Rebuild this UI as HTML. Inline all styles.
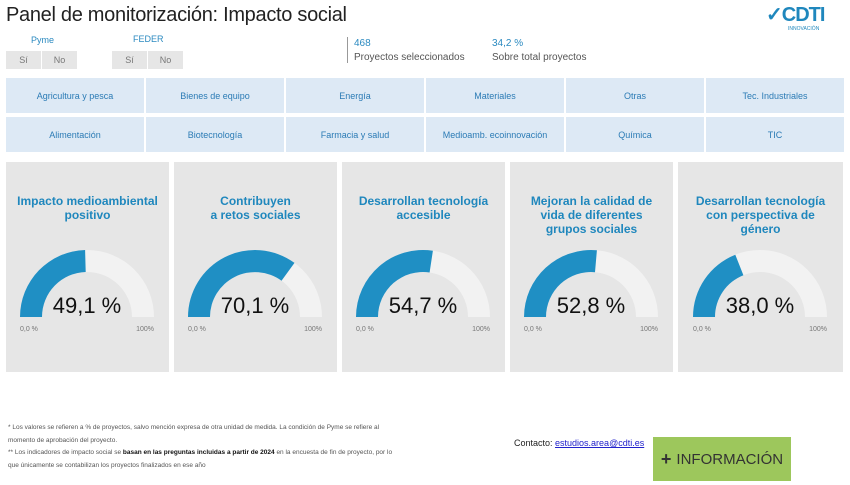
<!DOCTYPE html><html><head><meta charset="utf-8"><style>
body{margin:0;width:850px;height:485px;background:#fff;font-family:"Liberation Sans",sans-serif;position:relative;overflow:hidden}
.a{position:absolute}
.t{font-size:20px;color:#222;left:6px;top:4px;letter-spacing:-0.3px}
.cell{position:absolute;background:#dde9f5;color:#2b7bb5;font-size:9px;display:flex;align-items:center;justify-content:center;width:138px;height:35px}
.btn{position:absolute;background:#e6e6e6;color:#777;font-size:9px;display:flex;align-items:center;justify-content:center;height:18px}
.p{position:absolute;top:162px;height:210px;width:163px;background:#e6e6e6}
.p svg{position:absolute;left:0;top:0}
.h{position:absolute;left:0;right:0;top:32px;text-align:center;color:#1f87bd;font-weight:bold;font-size:12px;line-height:14px}
.foot{font-size:6.5px;color:#555;line-height:12.5px;left:8px;top:422px;width:390px}
</style></head><body>
<div class="a t">Panel de monitorización: Impacto social</div>
<div class="a" style="left:766px;top:2px;color:#1f87bd;font-weight:bold;font-size:20px;letter-spacing:-1px">✓CDTI</div>
<div class="a" style="left:788px;top:26px;color:#1f87bd;font-size:5px">INNOVACIÓN</div>
<div class="a" style="left:31px;top:35px;color:#2b8ac0;font-size:9px">Pyme</div>
<div class="a" style="left:133px;top:34px;color:#2b8ac0;font-size:9px">FEDER</div>
<div class="btn" style="left:6px;top:51px;width:35px">Sí</div><div class="btn" style="left:42px;top:51px;width:35px">No</div>
<div class="btn" style="left:112px;top:51px;width:35px">Sí</div><div class="btn" style="left:148px;top:51px;width:35px">No</div>
<div class="a" style="left:347px;top:37px;width:1px;height:26px;background:#999"></div>
<div class="a" style="left:354px;top:38px;color:#2b8ac0;font-size:10px">468</div>
<div class="a" style="left:354px;top:52px;color:#555;font-size:10px">Proyectos seleccionados</div>
<div class="a" style="left:492px;top:38px;color:#2b8ac0;font-size:10px">34,2 %</div>
<div class="a" style="left:492px;top:52px;color:#555;font-size:10px">Sobre total proyectos</div>
<div class="cell" style="left:6px;top:78px">Agricultura y pesca</div>
<div class="cell" style="left:146px;top:78px">Bienes de equipo</div>
<div class="cell" style="left:286px;top:78px">Energía</div>
<div class="cell" style="left:426px;top:78px">Materiales</div>
<div class="cell" style="left:566px;top:78px">Otras</div>
<div class="cell" style="left:706px;top:78px">Tec. Industriales</div>
<div class="cell" style="left:6px;top:117px">Alimentación</div>
<div class="cell" style="left:146px;top:117px">Biotecnología</div>
<div class="cell" style="left:286px;top:117px">Farmacia y salud</div>
<div class="cell" style="left:426px;top:117px">Medioamb. ecoinnovación</div>
<div class="cell" style="left:566px;top:117px">Química</div>
<div class="cell" style="left:706px;top:117px">TIC</div>

<div class="p" style="left:6px"><div class="h">Impacto medioambiental<br>positivo</div>
<svg width="163" height="210"><g transform="translate(81,155)"><path d="M-67 0A67 67 0 0 1 67 0L45 0A45 45 0 0 0 -45 0Z" fill="#f2f2f2"/><path d="M-67 0A67 67 0 0 1 -1.9 -67L-1.3 -45A45 45 0 0 0 -45 0Z" fill="#1f8fc4"/>
<text x="0" y="-4" text-anchor="middle" font-size="22" fill="#111" font-family="Liberation Sans">49,1 %</text>
<text x="-67" y="14" font-size="7" fill="#777" font-family="Liberation Sans">0,0 %</text><text x="67" y="14" text-anchor="end" font-size="7" fill="#777" font-family="Liberation Sans">100%</text></g></svg></div>

<div class="p" style="left:174px"><div class="h">Contribuyen<br>a retos sociales</div>
<svg width="163" height="210"><g transform="translate(81,155)"><path d="M-67 0A67 67 0 0 1 67 0L45 0A45 45 0 0 0 -45 0Z" fill="#f2f2f2"/><path d="M-67 0A67 67 0 0 1 39.5 -54.1L26.5 -36.3A45 45 0 0 0 -45 0Z" fill="#1f8fc4"/>
<text x="0" y="-4" text-anchor="middle" font-size="22" fill="#111" font-family="Liberation Sans">70,1 %</text>
<text x="-67" y="14" font-size="7" fill="#777" font-family="Liberation Sans">0,0 %</text><text x="67" y="14" text-anchor="end" font-size="7" fill="#777" font-family="Liberation Sans">100%</text></g></svg></div>

<div class="p" style="left:342px"><div class="h">Desarrollan tecnología<br>accesible</div>
<svg width="163" height="210"><g transform="translate(81,155)"><path d="M-67 0A67 67 0 0 1 67 0L45 0A45 45 0 0 0 -45 0Z" fill="#f2f2f2"/><path d="M-67 0A67 67 0 0 1 9.9 -66.3L6.6 -44.5A45 45 0 0 0 -45 0Z" fill="#1f8fc4"/>
<text x="0" y="-4" text-anchor="middle" font-size="22" fill="#111" font-family="Liberation Sans">54,7 %</text>
<text x="-67" y="14" font-size="7" fill="#777" font-family="Liberation Sans">0,0 %</text><text x="67" y="14" text-anchor="end" font-size="7" fill="#777" font-family="Liberation Sans">100%</text></g></svg></div>

<div class="p" style="left:510px"><div class="h">Mejoran la calidad de<br>vida de diferentes<br>grupos sociales</div>
<svg width="163" height="210"><g transform="translate(81,155)"><path d="M-67 0A67 67 0 0 1 67 0L45 0A45 45 0 0 0 -45 0Z" fill="#f2f2f2"/><path d="M-67 0A67 67 0 0 1 5.9 -66.7L4 -44.8A45 45 0 0 0 -45 0Z" fill="#1f8fc4"/>
<text x="0" y="-4" text-anchor="middle" font-size="22" fill="#111" font-family="Liberation Sans">52,8 %</text>
<text x="-67" y="14" font-size="7" fill="#777" font-family="Liberation Sans">0,0 %</text><text x="67" y="14" text-anchor="end" font-size="7" fill="#777" font-family="Liberation Sans">100%</text></g></svg></div>

<div class="p" style="left:678px;width:165px"><div class="h">Desarrollan tecnología<br>con perspectiva de<br>género</div>
<svg width="165" height="210"><g transform="translate(82,155)"><path d="M-67 0A67 67 0 0 1 67 0L45 0A45 45 0 0 0 -45 0Z" fill="#f2f2f2"/><path d="M-67 0A67 67 0 0 1 -24.7 -62.3L-16.6 -41.8A45 45 0 0 0 -45 0Z" fill="#1f8fc4"/>
<text x="0" y="-4" text-anchor="middle" font-size="22" fill="#111" font-family="Liberation Sans">38,0 %</text>
<text x="-67" y="14" font-size="7" fill="#777" font-family="Liberation Sans">0,0 %</text><text x="67" y="14" text-anchor="end" font-size="7" fill="#777" font-family="Liberation Sans">100%</text></g></svg></div>

<div class="a foot">* Los valores se refieren a % de proyectos, salvo mención expresa de otra unidad de medida. La condición de Pyme se refiere al momento de aprobación del proyecto.<br>** Los indicadores de impacto social se <b style="color:#111">basan en las preguntas incluidas a partir de 2024</b> en la encuesta de fin de proyecto, por lo que únicamente se contabilizan los proyectos finalizados en ese año</div>
<div class="a" style="left:514px;top:438px;font-size:9px;color:#222">Contacto: <span style="color:#22c;text-decoration:underline">estudios.area@cdti.es</span></div>
<div class="a" style="left:653px;top:437px;width:138px;height:44px;background:#9dc75c;color:#333;font-size:15px;display:flex;align-items:center;justify-content:center"><b style="font-size:18px;margin-right:5px">+</b>INFORMACIÓN</div>
</body></html>
